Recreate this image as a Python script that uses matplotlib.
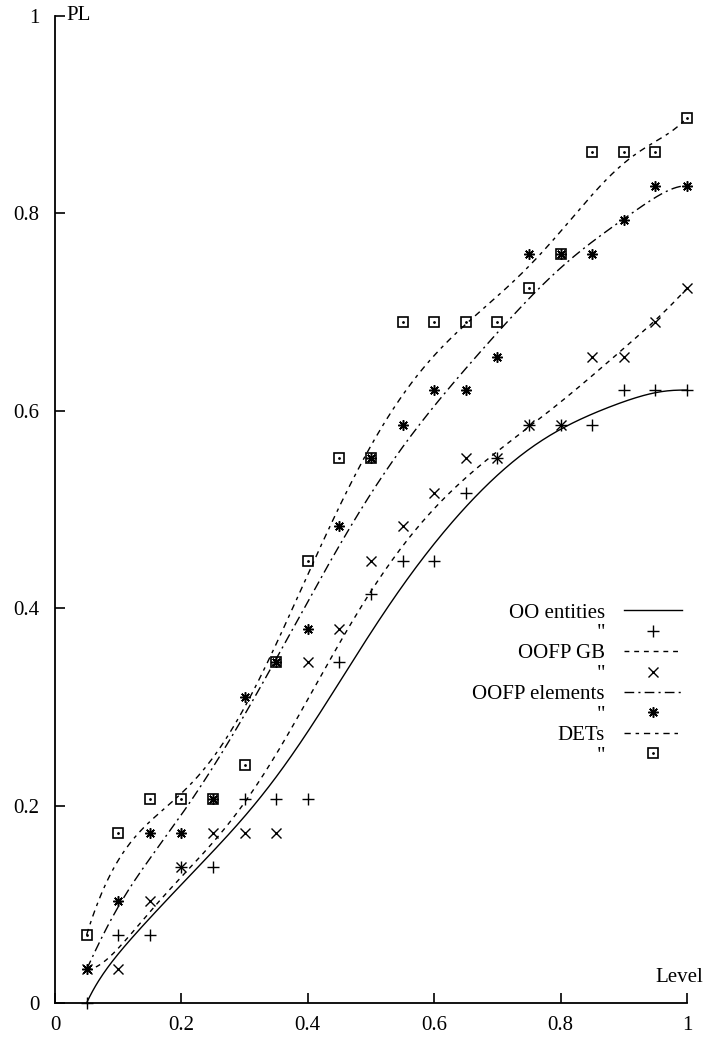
import numpy as np
import matplotlib
matplotlib.use("Agg")
import matplotlib.pyplot as plt
from math import comb

plt.rcParams['font.family'] = ['Liberation Serif', 'DejaVu Serif']
plt.rcParams['font.size'] = 15

# data (PL per level)
level = [0.05, 0.10, 0.15, 0.20, 0.25, 0.30, 0.35, 0.40, 0.45, 0.50,
         0.55, 0.60, 0.65, 0.70, 0.75, 0.80, 0.85, 0.90, 0.95, 1.00]
oo_entities = [0.0, 0.069, 0.069, 0.138, 0.138, 0.207, 0.207, 0.207, 0.345, 0.414,
               0.448, 0.448, 0.517, 0.552, 0.586, 0.586, 0.586, 0.621, 0.621, 0.621]
oofp_gb = [0.034, 0.034, 0.103, 0.138, 0.172, 0.172, 0.172, 0.345, 0.379, 0.448,
           0.483, 0.517, 0.552, 0.552, 0.586, 0.586, 0.655, 0.655, 0.690, 0.724]
oofp_elements = [0.034, 0.103, 0.172, 0.172, 0.207, 0.310, 0.345, 0.379, 0.483, 0.552,
                 0.586, 0.621, 0.621, 0.655, 0.759, 0.759, 0.759, 0.793, 0.828, 0.828]
dets = [0.069, 0.172, 0.207, 0.207, 0.207, 0.241, 0.345, 0.448, 0.552, 0.552,
        0.690, 0.690, 0.690, 0.690, 0.724, 0.759, 0.862, 0.862, 0.862, 0.897]

labels = ['OO entities', 'OOFP GB', 'OOFP elements', 'DETs']


def bezier(x, y, n=400):
    # gnuplot-style "smooth bezier": all points are control points
    x = np.asarray(x)
    y = np.asarray(y)
    m = len(x) - 1
    t = np.linspace(0, 1, n)
    B = np.array([comb(m, i) * t**i * (1 - t)**(m - i) for i in range(m + 1)])
    return B.T @ x, B.T @ y


fig = plt.figure(figsize=(7.05, 10.38), dpi=100)
ax = fig.add_axes([55/705, 35/1038, 632/705, 987/1038])

line_styles = ['-', (0, (3.5, 3.5)), (0, (7, 3, 1.5, 3)), (0, (4.5, 3.5, 2.5, 3.5))]
series = [oo_entities, oofp_gb, oofp_elements, dets]

curves = []
for ys, ls in zip(series, line_styles):
    bx, by = bezier(level, ys)
    l, = ax.plot(bx, by, color='black', lw=1.0, ls=ls)
    curves.append(l)

mk = dict(color='black', ls='none', clip_on=False)
p1, = ax.plot(level, oo_entities, marker='+', ms=8, mew=1.0, **mk)
p2, = ax.plot(level, oofp_gb, marker='x', ms=7, mew=1.0, **mk)
p3, = ax.plot(level, oofp_elements, marker=(8, 2, 0), ms=7.5, mew=1.1, **mk)
p4, = ax.plot(level, dets, marker='s', ms=7.5, mew=1.2, mfc='none', **mk)
p4b, = ax.plot(level, dets, marker='.', ms=2, **mk)

handles = [curves[0], p1, curves[1], p2, curves[2], p3, curves[3], (p4, p4b)]
leg_labels = [labels[0], '"', labels[1], '"', labels[2], '"', labels[3], '"']
ax.legend(handles, leg_labels, loc='upper right', frameon=False, markerfirst=False,
          bbox_to_anchor=(682/705, (1038-603)/1038), bbox_transform=fig.transFigure,
          handlelength=2.8, handletextpad=0.9, labelspacing=0.04, borderpad=0,
          borderaxespad=0, fontsize=15)

ax.set_xlim(0, 1)
ax.set_ylim(0, 1)
ax.set_xticks([0, 0.2, 0.4, 0.6, 0.8, 1])
ax.set_xticklabels(['0', '0.2', '0.4', '0.6', '0.8', '1'])
ax.set_yticks([0, 0.2, 0.4, 0.6, 0.8, 1])
ax.set_yticklabels(['0', '0.2', '0.4', '0.6', '0.8', '1'])
ax.tick_params(direction='in', length=7, width=1.2, labelsize=15)
ax.tick_params(axis='x', pad=9)
ax.tick_params(axis='y', pad=11)
ax.spines['top'].set_visible(False)
ax.spines['right'].set_visible(False)
ax.spines['left'].set_linewidth(1.3)
ax.spines['bottom'].set_linewidth(1.3)

fig.text(703/705, (1038-977)/1038, 'Level', ha='right', va='center', fontsize=15)
ax.text(0.018, 1.0, 'PL', ha='left', va='center', fontsize=15,
        transform=ax.transAxes)

fig.savefig('out.png', dpi=100)
